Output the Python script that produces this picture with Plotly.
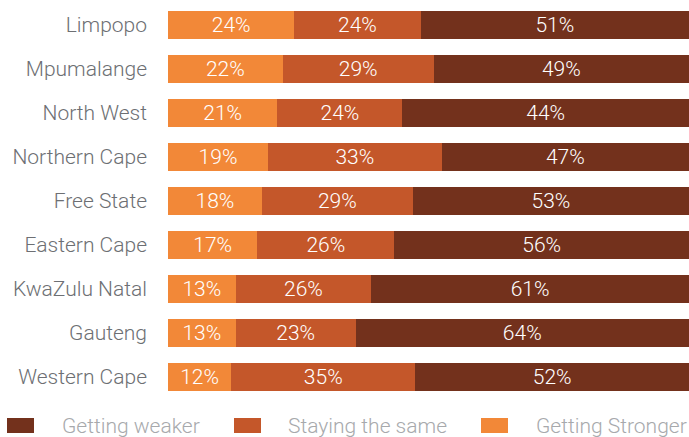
import plotly.graph_objects as go

provinces = ["Limpopo", "Mpumalange", "North West", "Northern Cape", "Free State",
             "Eastern Cape", "KwaZulu Natal", "Gauteng", "Western Cape"]
getting_stronger = [24, 22, 21, 19, 18, 17, 13, 13, 12]
staying_same = [24, 29, 24, 33, 29, 26, 26, 23, 35]
# bar lengths as drawn in the picture (North West bar is drawn longer than its label)
getting_weaker = [51, 49, 55, 47, 53, 56, 61, 64, 52]
# labels as printed on the bars
stronger_labels = ["24%", "22%", "21%", "19%", "18%", "17%", "13%", "13%", "12%"]
same_labels = ["24%", "29%", "24%", "33%", "29%", "26%", "26%", "23%", "35%"]
weaker_labels = ["51%", "49%", "44%", "47%", "53%", "56%", "61%", "64%", "52%"]

colors = {"Getting Stronger": "#F28838", "Staying the same": "#C4572A", "Getting weaker": "#73311C"}

W, H = 689, 437
ML, MR, MT, MB = 168, 0, 3, 38
PW, PH = W - ML - MR, H - MT - MB

def px(x):
    return (x - ML) / PW

def py(y):
    return (H - MB - y) / PH

font_family = "Roboto"
txt = dict(family=font_family, size=21, color="white", weight=300)

fig = go.Figure()
for name, vals, labels in [("Getting Stronger", getting_stronger, stronger_labels),
                           ("Staying the same", staying_same, same_labels),
                           ("Getting weaker", getting_weaker, weaker_labels)]:
    fig.add_trace(go.Bar(
        y=provinces, x=vals, name=name, orientation="h",
        marker=dict(color=colors[name], line=dict(width=0)),
        text=labels, textposition="inside", insidetextanchor="middle",
        textangle=0, textfont=txt, constraintext="none",
        hoverinfo="skip", showlegend=False,
    ))

fig.update_layout(
    width=W, height=H,
    margin=dict(l=ML, r=MR, t=MT, b=MB, pad=0),
    barmode="stack", barnorm="percent", bargap=0.35,
    plot_bgcolor="white", paper_bgcolor="white",
    xaxis=dict(visible=False, range=[0, 100], fixedrange=True),
    yaxis=dict(autorange="reversed", showgrid=False, showline=False, zeroline=False,
               ticks="", ticklabelstandoff=20,
               tickfont=dict(family=font_family, size=21, color="#6D6F73", weight=300)),
    showlegend=False,
)

# manual legend
legend_items = [("Getting weaker", 7, 60), ("Staying the same", 234, 286), ("Getting Stronger", 481, 534)]
for name, sx, tx in legend_items:
    fig.add_shape(type="rect", xref="paper", yref="paper",
                  x0=px(sx), x1=px(sx + 27), y0=py(433), y1=py(418),
                  fillcolor=colors[name], line=dict(width=0))
    fig.add_annotation(xref="paper", yref="paper", x=px(tx), y=py(426),
                       xanchor="left", yanchor="middle", showarrow=False,
                       text=name, font=dict(family=font_family, size=21, color="#A7A9AC", weight=300))

post = ("document.body.style.margin='0px';document.body.style.padding='0px';"
        "document.body.style.overflow='hidden';"
        "var gd=document.getElementById('{plot_id}');"
        "Plotly.relayout(gd,{width:%d,height:%d});" % (W, H))
fig.write_html("out.html", config={"responsive": False, "displayModeBar": False},
               post_script=post)
